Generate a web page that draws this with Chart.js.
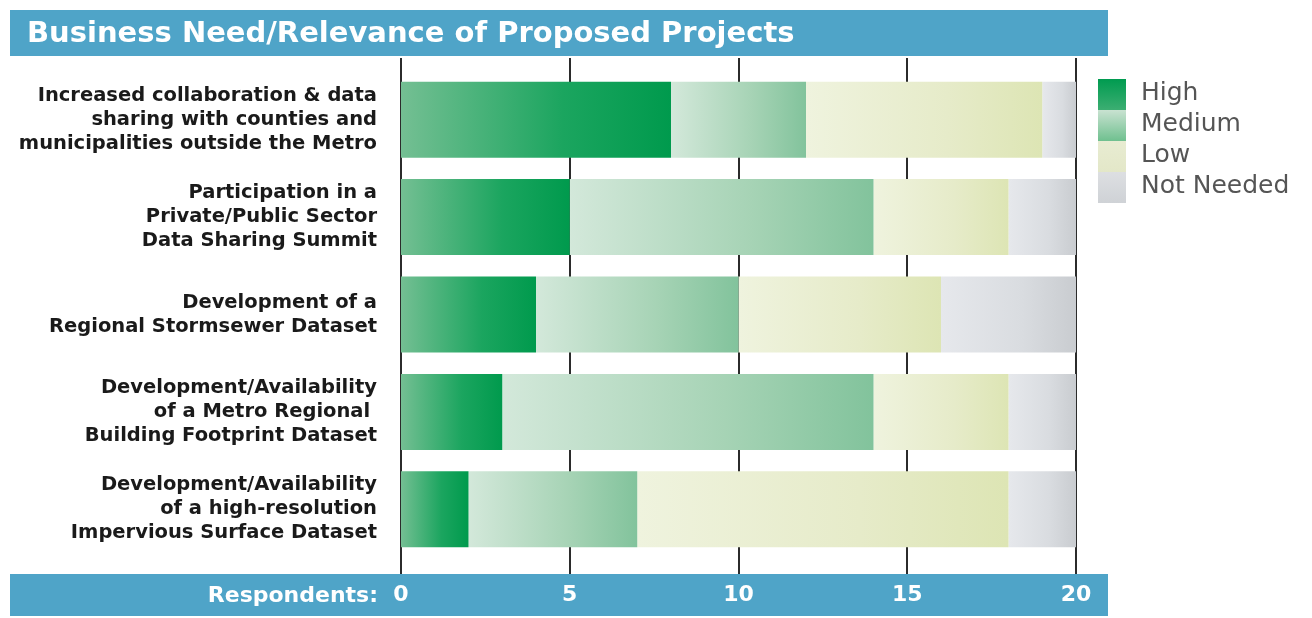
<!DOCTYPE html>
<html lang="en">
<head>
  <meta charset="UTF-8" />
  <title>Business Need/Relevance of Proposed Projects</title>
  <script src="https://cdn.jsdelivr.net/npm/chart.js"></script>
  <style>
    html, body { margin: 0; padding: 0; background: #fff; }
    #wrap { width: 1312px; height: 618px; position: relative; }
  </style>
</head>
<body>
  <div id="wrap"><canvas id="needChart"></canvas></div>

  <script>
    const projects = [
      ["Increased collaboration & data", "sharing with counties and", "municipalities outside the Metro"],
      ["Participation in a", "Private/Public Sector", "Data Sharing Summit"],
      ["Development of a", "Regional Stormsewer Dataset"],
      ["Development/Availability", "of a Metro Regional ", "Building Footprint Dataset"],
      ["Development/Availability", "of a high-resolution", "Impervious Surface Dataset"]
    ];
    const levels = ["High", "Medium", "Low", "Not Needed"];
    const high = [8, 5, 4, 3, 2];
    const medium = [4, 9, 6, 11, 5];
    const low = [7, 4, 6, 4, 11];
    const notNeeded = [1, 2, 4, 2, 2];
    const xTicks = [0, 5, 10, 15, 20];

    const series = [high, medium, low, notNeeded];
    const banner = '#4fa4c8';
    const labelFont = '"DejaVu Sans", sans-serif';

    // left -> right colour stops for the bar segments
    const barStops = [
      ['#74bf93', '#1ba55f', '#009a4d'],
      ['#d3e8da', '#a6d3b5', '#82c39c'],
      ['#eff3de', '#e6ebc9', '#dde5b4'],
      ['#e6e8ec', '#d9dce0', '#c9ccd0']
    ];
    // top -> bottom stops for the legend swatches
    const swatchStops = [
      ['#009b50', '#3cae72'],
      ['#c9e2d1', '#6fc08f'],
      ['#e8ecd2', '#e3e7c8'],
      ['#dddfe2', '#cfd2d6']
    ];

    function segmentFill(ctx) {
      const chart = ctx.chart;
      const d = ctx.datasetIndex;
      if (!chart.chartArea || ctx.type !== 'data') return barStops[d][2];
      const i = ctx.dataIndex;
      let start = 0;
      for (let k = 0; k < d; k++) start += series[k][i];
      const end = start + series[d][i];
      const x = chart.scales.x;
      const g = chart.ctx.createLinearGradient(x.getPixelForValue(start), 0, x.getPixelForValue(end), 0);
      g.addColorStop(0, barStops[d][0]);
      g.addColorStop(0.6, barStops[d][1]);
      g.addColorStop(1, barStops[d][2]);
      return g;
    }

    const frame = {
      id: 'frame',
      beforeDraw(chart) {
        const c = chart.ctx;
        c.save();
        c.fillStyle = '#fff';
        c.fillRect(0, 0, chart.width, chart.height);
        c.fillStyle = banner;
        c.fillRect(10, 10, 1098, 46);
        c.fillRect(10, 574, 1098, 42);
        c.fillStyle = '#fff';
        c.font = 'bold 29px ' + labelFont;
        c.textBaseline = 'middle';
        c.fillText('Business Need/Relevance of Proposed Projects', 27, 34);
        c.restore();
      },
      beforeDatasetsDraw(chart) {
        const c = chart.ctx;
        const x = chart.scales.x;
        c.save();
        c.strokeStyle = '#2b2b2b';
        c.lineWidth = 2;
        xTicks.forEach(v => {
          const px = Math.round(x.getPixelForValue(v));
          c.beginPath();
          c.moveTo(px, 58);
          c.lineTo(px, 574);
          c.stroke();
        });
        c.restore();
      },
      afterDraw(chart) {
        const c = chart.ctx;
        c.save();
        c.fillStyle = '#fff';
        c.font = 'bold 22px ' + labelFont;
        c.textAlign = 'right';
        c.textBaseline = 'middle';
        c.fillText('Respondents:', 378, 596);

        // legend
        c.textAlign = 'left';
        c.font = '25px ' + labelFont;
        levels.forEach((name, i) => {
          const y0 = 79 + i * 31;
          const g = c.createLinearGradient(0, y0, 0, y0 + 31);
          g.addColorStop(0, swatchStops[i][0]);
          g.addColorStop(1, swatchStops[i][1]);
          c.fillStyle = g;
          c.fillRect(1098, y0, 28, 31);
          c.fillStyle = '#555';
          c.fillText(name, 1141, y0 + 14);
        });
        c.restore();
      }
    };

    new Chart(document.getElementById('needChart'), {
      type: 'bar',
      data: {
        labels: projects,
        datasets: levels.map((name, d) => ({
          label: name,
          data: series[d],
          backgroundColor: segmentFill,
          borderWidth: 0,
          barPercentage: 0.78,
          categoryPercentage: 1
        }))
      },
      options: {
        indexAxis: 'y',
        responsive: true,
        maintainAspectRatio: false,
        animation: false,
        layout: { padding: { top: 71, right: 236, left: 0, bottom: 0 } },
        plugins: {
          legend: { display: false },
          title: { display: false },
          tooltip: { enabled: false }
        },
        scales: {
          x: {
            stacked: true,
            min: 0,
            max: 20,
            afterBuildTicks: scale => { scale.ticks = xTicks.map(v => ({ value: v })); },
            afterFit: scale => { scale.height = 59; },
            grid: { display: false, drawTicks: false },
            border: { display: false },
            ticks: {
              color: '#fff',
              font: { family: labelFont, size: 22, weight: 'bold' },
              padding: 24,
              maxRotation: 0,
              autoSkip: false
            }
          },
          y: {
            stacked: true,
            afterFit: scale => { scale.width = 401; },
            grid: { display: false, drawTicks: false },
            border: { display: false },
            ticks: {
              color: '#1a1a1a',
              font: { family: labelFont, size: 19.5, weight: 'bold', lineHeight: 1.23 },
              padding: 24,
              autoSkip: false
            }
          }
        }
      },
      plugins: [frame]
    });
  </script>
</body>
</html>
